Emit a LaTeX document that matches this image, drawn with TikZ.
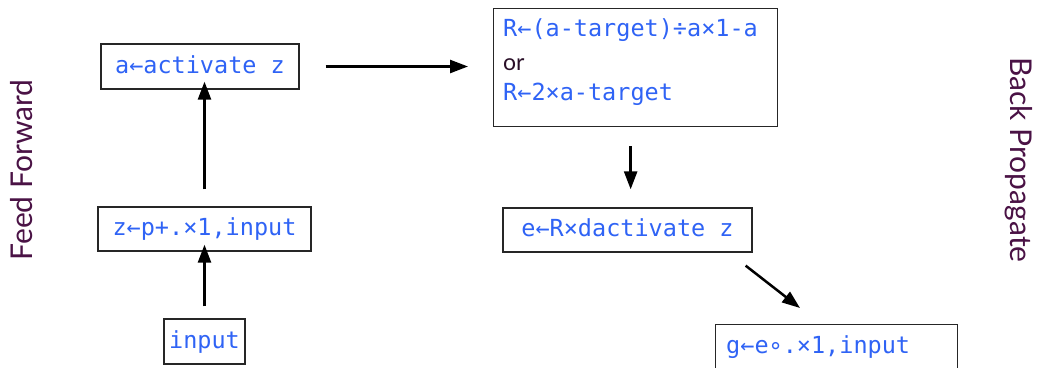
\documentclass[tikz,border=0pt]{standalone}
\usepackage{fontspec}
\setmainfont{Lato}
\newfontfamily\aplfont{DejaVu Sans Mono}
\usetikzlibrary{arrows.meta,calc}
\definecolor{codeblue}{HTML}{2F63F5}
\definecolor{plum}{HTML}{4A1245}
\definecolor{ink}{HTML}{2A0F28}
\tikzset{
  x=1pt, y=1pt,
  code/.style={font=\aplfont\fontsize{23.5}{28}\selectfont, text=codeblue},
  box/.style={draw=black!85, line width=1.3pt, code, inner sep=0pt,
              text height=17pt, text depth=4pt},
  flow/.style={line width=2.5pt, -{Triangle[length=18pt,width=13pt]}},
  side/.style={font=\fontsize{30}{36}\selectfont, text=plum, inner sep=0pt}
}
\begin{document}
\begin{tikzpicture}
\useasboundingbox (0,0) rectangle (1038,-367);

% feed forward column
\node[box, minimum width=198, minimum height=45] (act) at (200,-66.5) {a←activate z};
\node[box, minimum width=213, minimum height=44] (z) at (204.5,-229) {z←p+.×1,input};
\node[box, minimum width=81, minimum height=45] (in) at (204.5,-341.5) {input};

% back propagation column
\node[draw=black!85, line width=1.3pt, anchor=north west, inner sep=0pt,
      minimum width=284, minimum height=118] (R) at (493,-8) {};
\node[code, anchor=base west, inner sep=0pt] (R1) at (503,-36) {R←(a-target)÷a×1-a};
\node[anchor=base west, inner sep=0pt, text=ink, font=\fontsize{23}{28}\selectfont] (R2) at (503,-70) {or};
\node[code, anchor=base west, inner sep=0pt] (R3) at (503,-100) {R←2×a-target};

\node[box, minimum width=249, minimum height=44] (e) at (627.5,-230) {e←R×dactivate z};

\node[draw=black!85, line width=1.3pt, anchor=north west, inner sep=0pt,
      minimum width=242, minimum height=60] (g) at (715,-324) {};
\node[code, anchor=base west, inner sep=0pt] (gt) at (726,-353) {g←e∘.×1,input};

% connectors
\coordinate (zup) at ($(z.north)+(0,17)$);
\coordinate (rdown) at ($(R.south)+(-5,-19)$);
\draw[flow] ($(in.north)+(0,12)$) -- ($(z.south)+(0,7)$);
\draw[flow] (zup) -- ($(act.south -| zup)+(0,8)$);
\draw[flow] ($(act.east)+(26,0)$) -- ($(R.west |- act.east)+(-25,0)$);
\draw[flow] (rdown) -- ($(e.north -| rdown)+(0,18)$);
\draw[flow] ($(e.south east)+(-7,-13)$) -- ($(g.north west)+(85,16)$);

% side captions
\node[side, rotate=90] (ff) at (22,-170) {Feed Forward};
\node[side, rotate=-90] (bp) at (1019,-160) {Back Propagate};
\end{tikzpicture}
\end{document}
